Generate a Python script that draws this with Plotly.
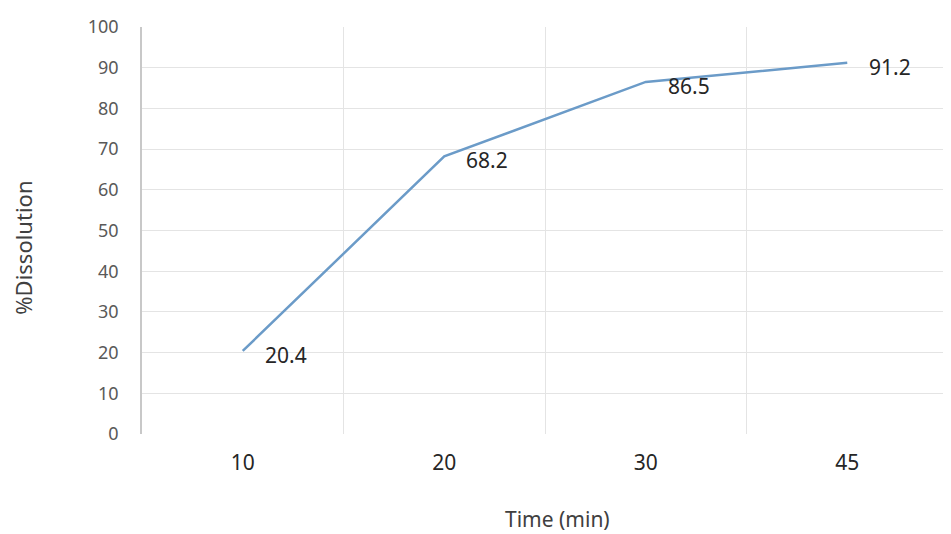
import plotly.graph_objects as go

time_labels = ["10", "20", "30", "45"]
dissolution = [20.4, 68.2, 86.5, 91.2]
y_ticks = [0, 10, 20, 30, 40, 50, 60, 70, 80, 90, 100]

fig = go.Figure()
fig.add_trace(go.Scatter(
    x=time_labels, y=dissolution, mode="lines",
    line=dict(color="#6b9bc8", width=2.5),
    hoverinfo="skip", showlegend=False,
))

for i, yv in enumerate(dissolution):
    fig.add_annotation(
        x=i, y=yv, text=f"{yv}", showarrow=False,
        xanchor="left", yanchor="middle", xshift=20, yshift=-4,
        font=dict(family="Noto Sans", size=21, color="#262626"),
    )

fig.add_annotation(
    xref="paper", yref="paper", x=-0.148, y=0.457, text="%Dissolution",
    textangle=-90, showarrow=False, xanchor="center", yanchor="middle",
    font=dict(family="Noto Sans", size=22, color="#404040"),
)
fig.add_annotation(
    xref="paper", yref="paper", x=0.515, y=-0.17, text="Time (min)",
    showarrow=False, xanchor="center", yanchor="top",
    font=dict(family="Noto Sans", size=21, color="#404040"),
)

fig.update_layout(
    width=943, height=526,
    margin=dict(l=134, r=3, t=19, b=100),
    paper_bgcolor="white", plot_bgcolor="white",
    xaxis=dict(
        type="category", tickson="boundaries", showgrid=True,
        gridcolor="#e4e4e4", gridwidth=1, ticks="", showline=False,
        zeroline=False, ticklabelstandoff=14,
        tickfont=dict(family="Noto Sans", size=21, color="#262626"),
        range=[-0.5, 3.5],
    ),
    yaxis=dict(
        range=[0, 100], tickvals=y_ticks, showgrid=True,
        gridcolor="#e4e4e4", gridwidth=1, zeroline=False,
        showline=True, linecolor="#c8c8c8", linewidth=1.5, ticks="",
        ticklabelstandoff=18,
        tickfont=dict(family="Noto Sans", size=18, color="#595959"),
    ),
)

fig.write_html("out.html")
